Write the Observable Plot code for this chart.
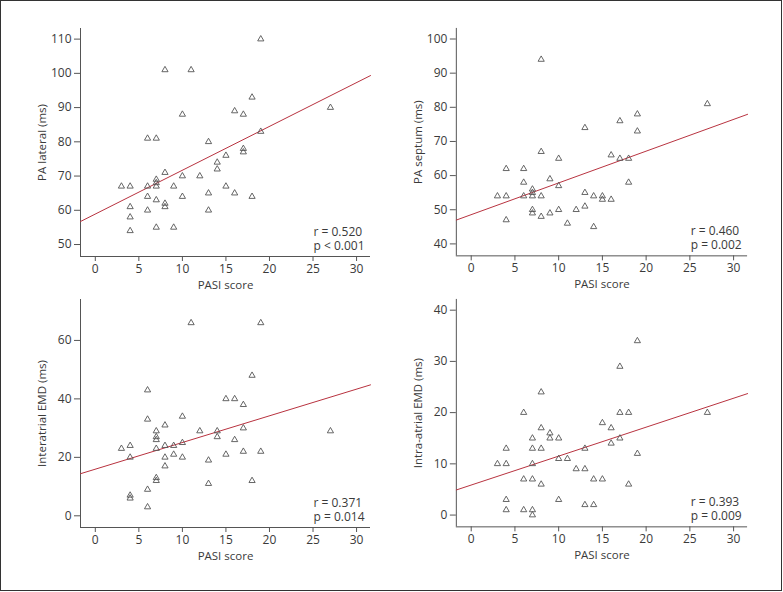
<!DOCTYPE html>
<html>
<head>
<meta charset="utf-8">
<script src="https://cdn.jsdelivr.net/npm/d3@7"></script>
<script src="https://cdn.jsdelivr.net/npm/@observablehq/plot@0.6"></script>
<style>
  body { margin: 0; background: #fff; }
  #wrap { position: relative; width: 783px; height: 592px; overflow: hidden; background: #fff; }
  #border { position: absolute; left: 0; top: 0; width: 780px; height: 589px; border: 1px solid #333; pointer-events: none; z-index: 5; }
  .panel { position: absolute; }
  .panel svg { overflow: visible; }
</style>
</head>
<body>
<div id="wrap"><div id="border"></div></div>
<script>
// ---------- data ----------
const xTicks = [0, 5, 10, 15, 20, 25, 30];
const xDomain = [-1.7, 31.6];
const xLabel = "PASI score";

// Panel A: PA lateral
const lateralX = [19,8,11,18,27,16,17,10,19,6,7,13,17,17,15,14,14,8,10,12,7,7,7,3,4,6,9,15,6,10,18,13,16,7,8,8,4,4,6,13,7,9,4];
const lateralY = [110,101,101,93,90,89,88,88,83,81,81,80,78,77,76,74,72,71,70,70,69,68,67,67,67,67,67,67,64,64,64,65,65,63,62,61,61,58,60,60,55,55,54];
const lateralFit = [58.9, 1.28]; // intercept, slope
const lateralTicks = [50, 60, 70, 80, 90, 100, 110];
const lateralDomain = [46.5, 113.1];
const lateralStats = "r = 0.520\np < 0.001";

// Panel B: PA septum
const septumX = [8,27,19,17,13,19,8,16,10,17,18,4,6,9,6,18,10,7,7,13,3,4,6,7,8,14,15,15,16,13,7,7,10,12,9,8,11,4,14];
const septumY = [94,81,78,76,74,73,67,66,65,65,65,62,62,59,58,58,57,56,55,55,54,54,54,54,54,54,54,53,53,51,50,49,50,50,49,48,46,47,45];
const septumFit = [48.56, 0.93];
const septumTicks = [40, 50, 60, 70, 80, 90, 100];
const septumDomain = [36.5, 103.1];
const septumStats = "r = 0.460\np = 0.002";

// Panel C: Interatrial EMD
const interX = [11,19,18,6,15,16,17,10,6,8,17,7,12,14,27,7,14,7,16,10,4,8,9,3,7,17,19,9,15,4,8,10,13,8,7,7,18,13,6,4,4,6];
const interY = [66,66,48,43,40,40,38,34,33,31,30,29,29,29,29,27,27,26,26,25,24,24,24,23,23,22,22,21,21,20,20,20,19,17,13,12,12,11,9,7,6,3];
const interFit = [15.95, 0.913];
const interTicks = [0, 20, 40, 60];
const interDomain = [-4, 74];
const interStats = "r = 0.371\np = 0.014";

// Panel D: Intra-atrial EMD
const intraX = [19,17,8,6,17,18,27,15,8,16,9,7,9,10,17,16,4,7,8,13,19,10,11,3,4,7,12,13,6,7,14,15,8,18,4,10,13,14,4,6,7,7];
const intraY = [34,29,24,20,20,20,20,18,17,17,16,15,15,15,15,14,13,13,13,13,12,11,11,10,10,10,9,9,7,7,7,7,6,6,3,3,2,2,1,1,1,0];
const intraFit = [5.86, 0.565];
const intraTicks = [0, 10, 20, 30, 40];
const intraDomain = [-2.3, 42.1];
const intraStats = "r = 0.393\np = 0.009";

// ---------- drawing ----------
const FONT = "'Open Sans', 'Noto Sans', sans-serif";
const TICK_FS = 12;
const LABEL_FS = 11.5;
const STAT_FS = 12;
const RED = "#b8323f";
const GREY = "#555";
const TEXT = "#3a3a3a";

const panels = [
  {xs: lateralX, ys: lateralY, fit: lateralFit, ticks: lateralTicks, domain: lateralDomain, stats: lateralStats, label: "PA lateral (ms)", left: 0, top: 0, mL: 80, mR: 22},
  {xs: septumX, ys: septumY, fit: septumFit, ticks: septumTicks, domain: septumDomain, stats: septumStats, label: "PA septum (ms)", left: 392, top: 0, mL: 64, mR: 36},
  {xs: interX, ys: interY, fit: interFit, ticks: interTicks, domain: interDomain, stats: interStats, label: "Interatrial EMD (ms)", left: 0, top: 271, mL: 80, mR: 22},
  {xs: intraX, ys: intraY, fit: intraFit, ticks: intraTicks, domain: intraDomain, stats: intraStats, label: "Intra-atrial EMD (ms)", left: 392, top: 271, mL: 64, mR: 36}
];

const wrap = document.getElementById("wrap");

for (const p of panels) {
  const pts = p.xs.map((x, i) => ({x, y: p.ys[i]}));
  const fitLine = xDomain.map(x => ({x, y: p.fit[0] + p.fit[1] * x}));
  const chart = Plot.plot({
    width: 392,
    height: 300,
    marginLeft: p.mL,
    marginRight: p.mR,
    marginTop: 28,
    marginBottom: 44,
    style: {background: "transparent", fontFamily: FONT, fontSize: TICK_FS + "px", color: TEXT},
    x: {domain: xDomain},
    y: {domain: p.domain},
    marks: [
      Plot.ruleX([xDomain[0]], {stroke: GREY, strokeWidth: 1}),
      Plot.ruleY([p.domain[0]], {stroke: GREY, strokeWidth: 1}),
      Plot.axisX({ticks: xTicks, tickSize: 5, tickPadding: 3, label: null, stroke: GREY, fill: TEXT, fontSize: TICK_FS}),
      Plot.axisY({ticks: p.ticks, tickSize: 6, tickPadding: 3, label: null, stroke: GREY, fill: TEXT, fontSize: TICK_FS}),
      Plot.line(fitLine, {x: "x", y: "y", stroke: RED, strokeWidth: 1}),
      Plot.dot(pts, {x: "x", y: "y", symbol: "triangle", r: 2.3, stroke: GREY, fill: "none", strokeWidth: 0.9}),
      Plot.text([p.stats], {frameAnchor: "bottom-right", textAnchor: "start", lineAnchor: "bottom", dx: -57, dy: -7, lineHeight: 13.5 / STAT_FS, fontSize: STAT_FS, fill: TEXT}),
      Plot.text([xLabel], {frameAnchor: "bottom", lineAnchor: "middle", dy: 29, fontSize: LABEL_FS, fill: TEXT}),
      Plot.text([p.label], {frameAnchor: "left", rotate: -90, textAnchor: "middle", lineAnchor: "middle", dx: -38, fontSize: LABEL_FS, fill: TEXT})
    ]
  });
  const div = document.createElement("div");
  div.className = "panel";
  div.style.left = p.left + "px";
  div.style.top = p.top + "px";
  div.appendChild(chart);
  wrap.appendChild(div);
}
</script>
</body>
</html>
